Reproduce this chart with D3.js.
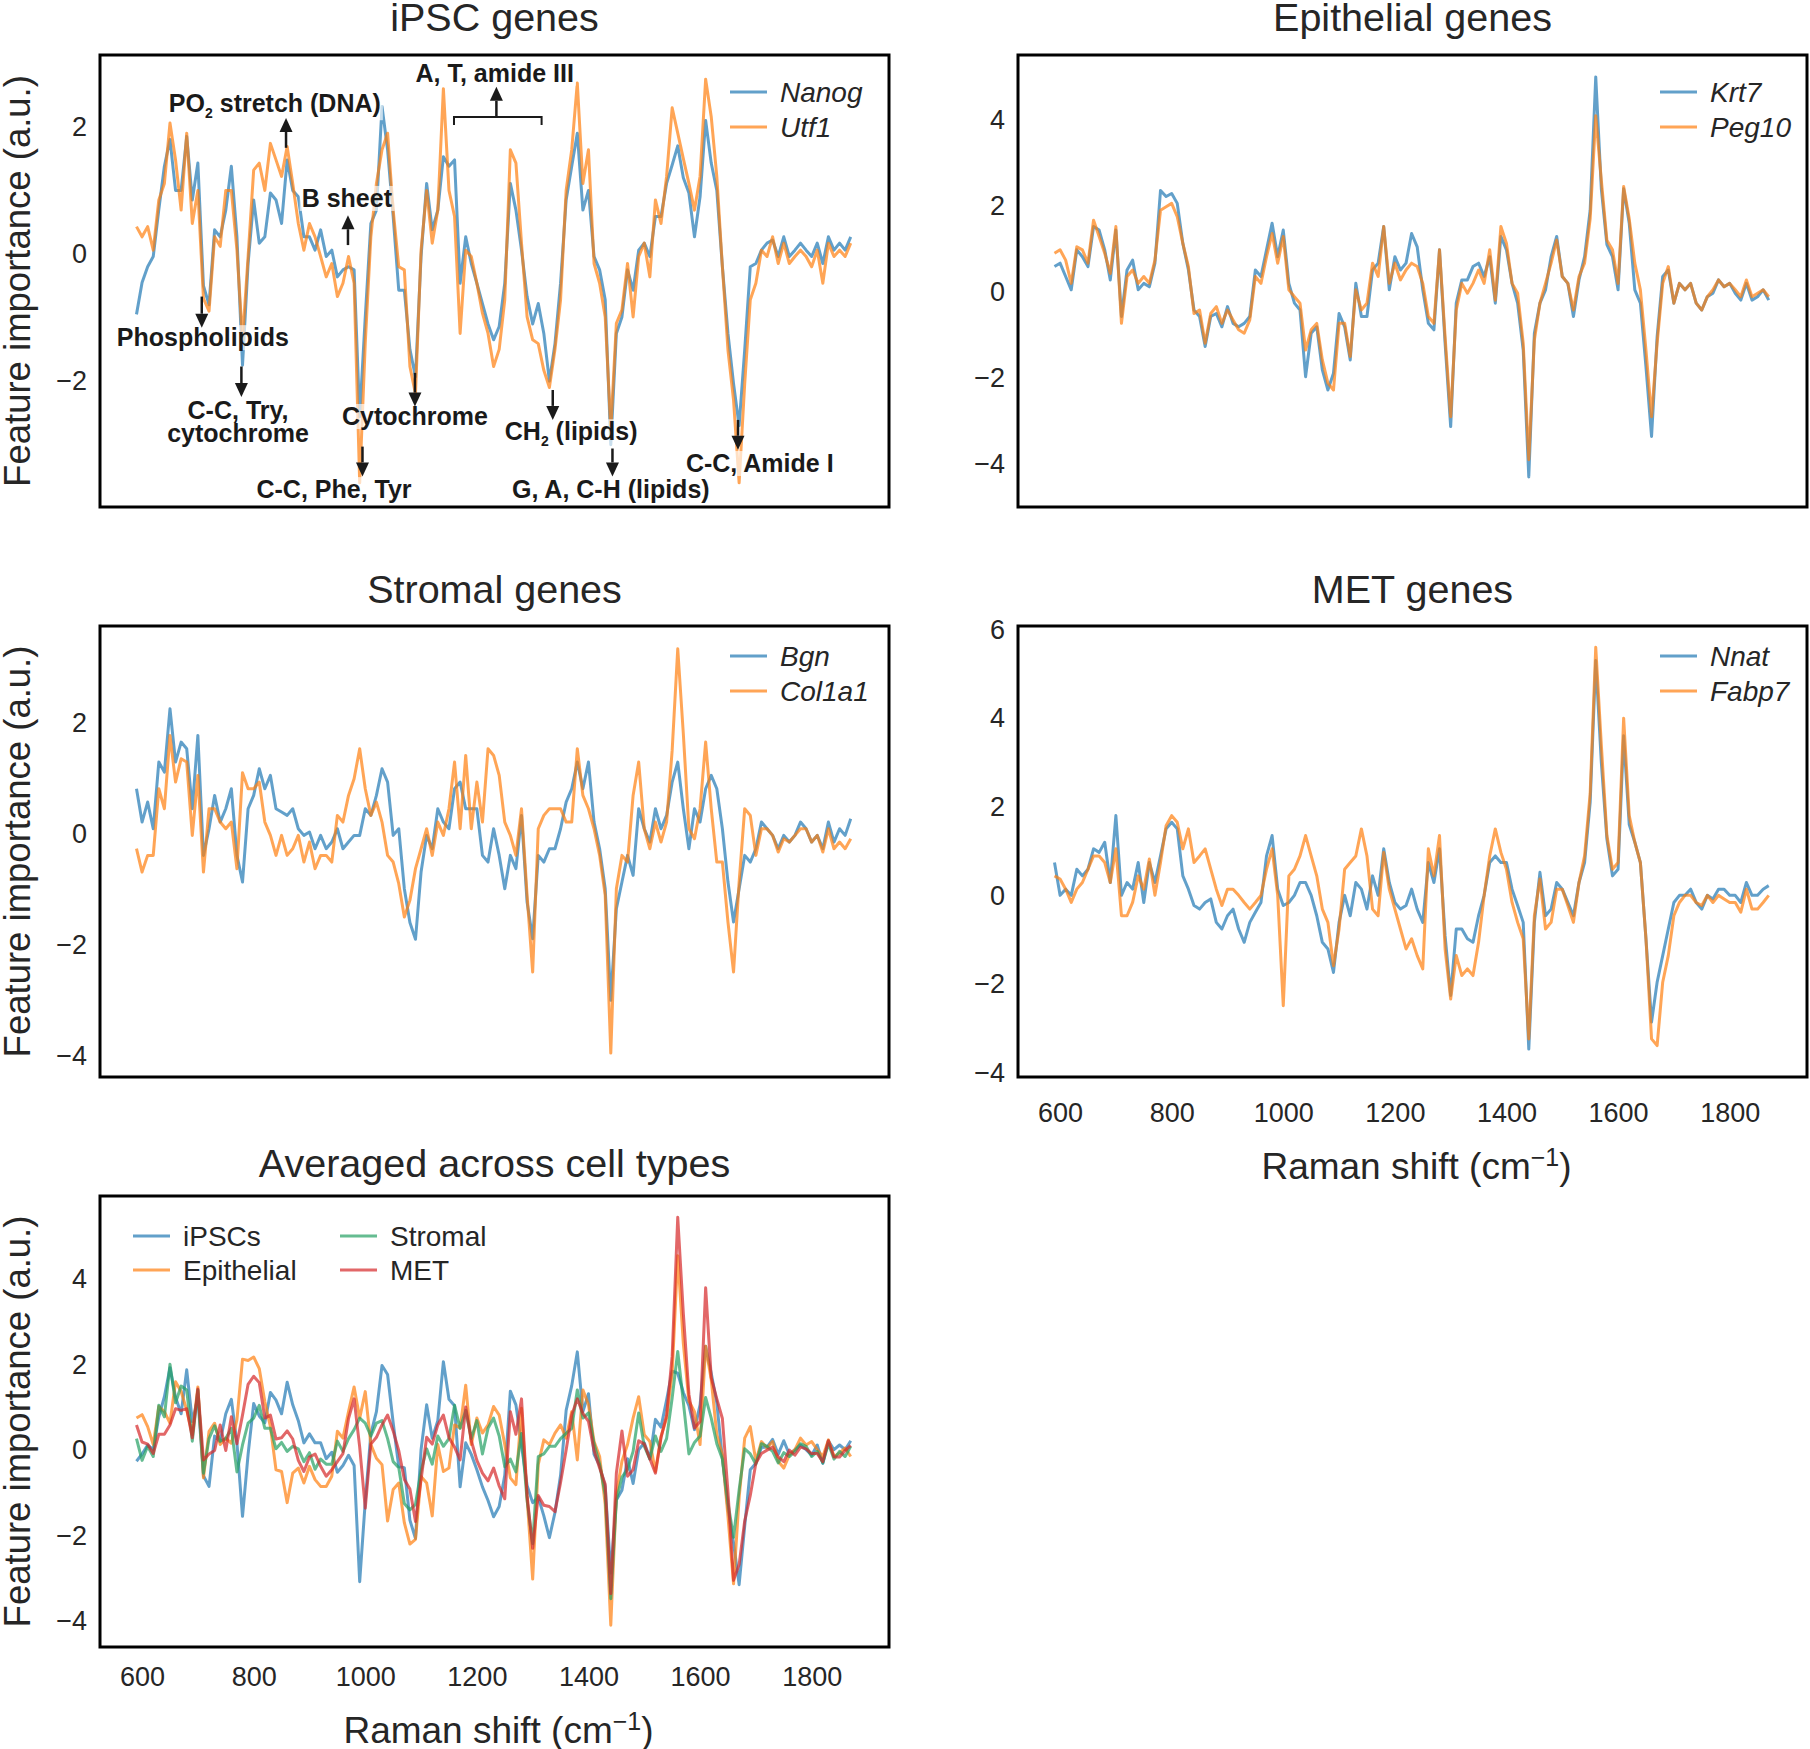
<!DOCTYPE html>
<html><head><meta charset="utf-8">
<script src="https://cdn.jsdelivr.net/npm/d3@7"></script>
<style>body{margin:0;background:#fff}</style>
</head><body>
<svg id="c" width="1810" height="1749" xmlns="http://www.w3.org/2000/svg"></svg>
<script>
// ---------------- data ----------------
const shift = [590,600,610,620,630,640,650,660,670,680,690,700,710,720,730,740,750,760,770,780,790,
800,810,820,830,840,850,860,870,880,890,900,910,920,930,940,950,960,970,980,990,
1000,1010,1020,1030,1040,1050,1060,1070,1080,1090,1100,1110,1120,1130,1140,1150,1160,1170,1180,1190,
1200,1210,1220,1230,1240,1250,1260,1270,1280,1290,1300,1310,1320,1330,1340,1350,1360,1370,1380,1390,
1400,1410,1420,1430,1440,1450,1460,1470,1480,1490,1500,1510,1520,1530,1540,1550,1560,1570,1580,1590,
1600,1610,1620,1630,1640,1650,1660,1670,1680,1690,1700,1710,1720,1730,1740,1750,1760,1770,1780,1790,
1800,1810,1820,1830,1840,1850,1860,1870];

const nanog = [-0.95,
-0.45,-0.2,-0.04,0.7,1.38,1.8,1.0,1.0,1.85,0.85,
1.43,-0.5,-0.8,0.38,0.27,0.69,1.38,0.27,-1.75,-0.15,
0.85,0.17,0.27,0.96,0.85,0.48,1.48,1.0,0.9,0.27,
0.27,0.06,0.38,-0.04,0.06,-0.36,-0.25,-0.2,-0.25,-2.56,
-0.99,0.48,0.69,2.32,1.64,0.59,-0.57,-0.57,-1.5,-1.93,
-0.04,1.11,0.38,0.69,1.53,1.38,1.48,-0.46,0.27,-0.15,
-0.46,-0.78,-1.1,-1.35,-1.14,-0.46,1.11,0.69,0.06,-0.67,
-1.1,-0.78,-1.25,-2.0,-1.41,-0.46,0.85,1.38,1.9,0.69,
1.0,-0.04,-0.25,-0.72,-3.0,-1.25,-0.99,-0.25,-0.57,0.06,
0.17,-0.04,0.59,0.59,1.11,1.4,1.7,1.2,0.96,0.27,
0.9,2.1,1.43,1.0,-0.2,-1.25,-2.04,-2.7,-1.51,-0.2,
-0.15,0.06,0.17,0.22,-0.04,0.27,-0.04,0.06,0.17,0.06,
-0.04,0.17,-0.15,0.27,0.06,0.17,0.06,0.27];

const utf1 = [0.43,
0.27,0.43,0.06,0.85,1.11,2.06,1.48,0.69,1.9,0.48,
1.0,-0.7,-0.9,0.27,0.12,1.0,1.0,0.06,-1.35,-0.04,
1.32,1.43,1.0,1.74,1.48,1.22,1.69,1.11,0.48,0.06,
0.48,0.27,-0.04,-0.36,-0.15,-0.67,-0.46,-0.04,-0.46,-3.6,
-1.4,0.27,1.11,1.64,1.9,0.69,-0.2,-0.25,-1.77,-2.2,
0.06,1.0,0.17,0.69,2.6,1.0,0.59,-1.25,0.06,-0.04,
-0.46,-0.93,-1.25,-1.77,-1.5,-0.72,1.64,1.43,0.17,-0.99,
-1.35,-1.41,-1.83,-2.1,-1.5,-0.72,1.0,1.64,2.69,1.11,
1.64,-0.15,-0.46,-0.99,-2.75,-1.09,-0.88,-0.15,-0.99,-0.04,
0.17,-0.36,0.85,0.48,1.22,2.3,1.9,1.5,1.11,0.69,
1.22,2.75,2.16,1.22,-0.2,-1.51,-2.3,-3.6,-2.04,-0.72,
-0.46,0.06,-0.04,0.27,-0.15,0.17,-0.15,-0.04,0.06,-0.04,
-0.2,0.06,-0.46,0.17,-0.04,0.06,-0.04,0.17];

const krt7 = [0.59,
0.67,0.36,0.05,0.98,0.82,0.59,1.52,1.44,0.98,0.28,
1.44,-0.57,0.51,0.74,0.05,0.2,0.12,0.67,2.36,2.22,
2.29,2.06,1.13,0.51,-0.42,-0.57,-1.27,-0.57,-0.5,-0.81,
-0.34,-0.73,-0.81,-0.73,-0.57,0.51,0.36,0.98,1.6,0.82,
1.44,0.2,-0.26,-0.42,-1.97,-0.96,-0.81,-1.81,-2.28,-1.89,
-0.5,-0.81,-1.58,0.2,-0.57,-0.57,0.51,0.67,1.52,0.05,
0.82,0.51,0.67,1.36,1.05,0.05,-0.73,-0.88,0.98,-1.19,
-3.13,-0.26,0.28,0.28,0.59,0.67,0.36,0.82,-0.26,1.29,
0.98,0.2,-0.26,-1.35,-4.3,-0.96,-0.26,0.05,0.82,1.29,
0.36,0.2,-0.57,0.28,0.82,1.9,5.0,2.4,1.1,0.82,
0.05,2.4,1.6,0.05,-0.26,-1.74,-3.36,-1.04,0.36,0.51,
-0.26,0.2,0.05,0.2,-0.26,-0.42,-0.11,-0.03,0.28,0.12,
0.2,-0.03,-0.19,0.2,-0.19,-0.11,0.05,-0.19];

const peg10 = [0.9,
0.98,0.74,0.2,1.05,0.98,0.67,1.67,1.29,0.9,0.43,
1.52,-0.73,0.36,0.51,0.2,0.36,0.2,0.74,1.9,1.98,
2.06,1.75,1.13,0.59,-0.5,-0.42,-1.19,-0.5,-0.34,-0.73,
-0.42,-0.65,-0.88,-0.96,-0.65,0.36,0.2,0.82,1.36,0.67,
1.29,0.05,-0.11,-0.26,-1.35,-0.88,-0.73,-1.58,-2.12,-2.28,
-0.73,-0.73,-1.5,0.05,-0.42,-0.26,0.67,0.36,1.52,0.2,
0.67,0.28,0.51,0.67,0.59,0.2,-0.57,-0.73,0.98,-1.04,
-2.9,-0.42,0.2,-0.03,0.2,0.51,0.2,0.98,-0.19,1.52,
1.13,0.2,-0.03,-1.19,-3.9,-1.12,-0.26,0.2,0.67,1.21,
0.36,0.2,-0.42,0.36,0.67,1.7,4.1,2.6,1.2,0.98,
0.2,2.45,1.7,0.67,0.05,-1.35,-2.9,-1.19,0.2,0.59,
-0.26,0.2,0.05,0.2,-0.26,-0.42,-0.11,0.05,0.28,0.12,
0.2,0.05,-0.11,0.28,-0.11,-0.03,0.05,-0.11];

const bgn = [0.81,
0.21,0.57,0.09,1.29,1.11,2.25,1.29,1.65,1.53,0.45,
1.77,-0.39,0.09,0.69,0.21,0.45,0.81,-0.39,-0.87,0.45,
0.69,1.17,0.81,1.05,0.45,0.39,0.33,0.45,0.09,-0.03,
0.03,-0.27,-0.03,-0.27,-0.15,0.09,-0.27,-0.15,-0.03,-0.03,
0.45,0.33,0.69,1.17,0.93,-0.03,0.09,-0.99,-1.6,-1.9,
-0.69,-0.03,-0.27,0.45,0.21,0.09,0.81,0.93,0.45,0.45,
0.45,-0.39,-0.51,0.09,-0.39,-0.99,-0.39,-0.63,0.33,-1.23,
-1.89,-0.39,-0.51,-0.27,-0.27,0.09,0.57,0.81,1.29,0.81,
1.29,0.21,-0.27,-0.99,-3.0,-1.35,-0.87,-0.39,-0.75,0.45,
0.09,-0.15,0.45,0.09,0.33,0.93,1.29,0.45,-0.27,0.45,
0.21,0.81,1.05,0.81,0.09,-0.87,-1.59,-0.99,-0.39,-0.51,
-0.27,0.21,0.09,-0.03,-0.27,-0.03,-0.15,-0.03,0.21,0.09,
-0.15,-0.03,-0.27,0.21,-0.15,0.09,-0.03,0.27];

const col1a1 = [-0.27,
-0.69,-0.39,-0.39,0.81,0.45,1.77,0.93,1.35,1.29,-0.03,
1.05,-0.69,0.45,0.45,0.21,0.09,0.21,-0.63,1.1,0.81,
0.81,0.93,0.21,-0.03,-0.39,-0.03,-0.39,-0.27,-0.03,-0.51,
-0.15,-0.63,-0.39,-0.39,-0.51,0.33,0.21,0.69,0.99,1.53,
0.81,0.33,0.57,0.21,-0.39,-0.51,-0.9,-1.5,-1.2,-0.63,
-0.27,0.09,-0.39,0.21,-0.03,0.45,1.29,0.09,1.41,0.09,
0.93,0.21,1.53,1.41,1.05,0.21,-0.03,-0.39,0.45,-1.11,
-2.49,0.09,0.33,0.45,0.45,0.45,0.21,0.21,1.53,0.69,
0.45,0.09,-0.39,-1.11,-3.95,-0.99,-0.39,-0.51,0.69,1.29,
0.09,-0.27,0.21,-0.15,0.21,1.5,3.33,1.8,0.09,-0.09,
0.45,1.65,0.45,-0.51,-0.51,-1.59,-2.49,-0.87,0.45,0.33,
-0.39,0.09,0.09,-0.03,-0.33,-0.09,-0.15,-0.03,0.09,0.09,
-0.15,-0.03,-0.33,0.09,-0.27,-0.15,-0.27,-0.09];

const nnat = [0.74,
0,0.14,0,0.59,0.44,0.59,1.05,0.97,1.2,0.29,
1.8,0,0.29,0.14,0.74,-0.16,0.74,0.29,0.89,1.5,
1.65,1.5,0.44,0.14,-0.23,-0.31,-0.16,-0.08,-0.61,-0.76,
-0.46,-0.31,-0.76,-1.06,-0.61,-0.38,-0.16,0.89,1.35,0.14,
-0.23,-0.16,0,0.29,0.29,0,-0.46,-1.06,-1.21,-1.74,
-0.61,0,-0.46,0.29,0.14,-0.31,0.44,0,1.05,0.29,
-0.16,-0.31,-0.23,0.14,-0.31,-0.61,0.74,0.29,1.05,-0.91,
-2.26,-0.76,-0.76,-0.98,-1.06,-0.46,0,0.74,0.89,0.74,
0.74,0.14,-0.23,-0.61,-3.47,-0.61,0.52,-0.46,-0.31,0.29,
0.14,-0.16,-0.46,0.29,0.74,2.1,5.3,3.0,1.27,0.44,
0.59,3.6,1.6,1.2,0.74,-0.98,-2.86,-1.96,-1.36,-0.76,
-0.16,0,0,0.14,-0.16,-0.31,0,-0.08,0.14,0.14,
0,0,-0.16,0.29,0,0,0.14,0.22];

const fabp7 = [0.44,
0.37,0.14,-0.16,0.14,0.29,0.59,0.89,0.89,0.74,0.29,
1.05,-0.46,-0.46,-0.16,0.44,0.14,0.82,0,0.74,1.57,
1.8,1.65,1.05,1.5,0.74,0.89,1.05,0.59,0.14,-0.23,
0.14,0.14,0,-0.16,-0.31,-0.16,0,0.59,1.05,0,
-2.49,0.44,0.59,0.89,1.35,0.89,0.44,-0.31,-0.61,-1.59,
-0.76,0.59,0.74,0.89,1.5,0.89,-0.31,-0.46,0.97,0.14,
-0.31,-0.76,-1.21,-0.98,-1.36,-1.66,1.05,0.44,1.35,-1.21,
-2.34,-1.36,-1.81,-1.66,-1.81,-1.06,0,0.89,1.5,0.97,
0.59,-0.16,-0.61,-0.98,-3.24,-0.46,0.37,-0.76,-0.61,0.14,
0.14,-0.23,-0.61,0.29,0.89,2.3,5.6,3.4,1.35,0.59,
0.74,4.0,1.8,1.2,0.74,-0.98,-3.24,-3.39,-1.96,-1.36,
-0.46,-0.16,0,0,-0.16,-0.23,0,-0.16,0,-0.08,
-0.16,-0.16,-0.38,0.14,-0.31,-0.31,-0.16,0];

const avgIPSC = [-0.26,
-0.09,0.12,0.01,0.78,1.25,1.93,1.24,0.85,1.88,0.67,
1.22,-0.6,-0.85,0.33,0.2,0.85,1.19,0.17,-1.55,-0.1,
1.09,0.8,0.64,1.35,1.17,0.85,1.59,1.06,0.69,0.17,
0.38,0.17,0.17,-0.2,-0.05,-0.52,-0.36,-0.12,-0.36,-3.08,
-1.2,0.38,0.9,1.98,1.77,0.64,-0.39,-0.41,-1.64,-2.07,
0.01,1.06,0.28,0.69,2.07,1.19,1.04,-0.86,0.17,-0.1,
-0.46,-0.86,-1.18,-1.56,-1.32,-0.59,1.38,1.06,0.12,-0.83,
-1.23,-1.1,-1.54,-2.05,-1.46,-0.59,0.93,1.51,2.3,0.9,
1.32,-0.1,-0.36,-0.86,-2.88,-1.17,-0.94,-0.2,-0.78,0.01,
0.17,-0.2,0.72,0.54,1.17,1.85,1.8,1.35,1.04,0.48,
1.06,2.43,1.8,1.11,-0.2,-1.38,-2.17,-3.15,-1.78,-0.46,
-0.31,0.06,0.07,0.25,-0.1,0.22,-0.1,0.01,0.12,0.01,
-0.12,0.12,-0.31,0.22,0.01,0.12,0.01,0.22];

const avgEpithelial = [0.75,
0.83,0.55,0.13,1.02,0.9,0.63,1.6,1.37,0.94,0.36,
1.48,-0.65,0.44,0.63,0.13,0.28,0.16,0.71,2.13,2.1,
2.18,1.91,1.13,0.55,-0.46,-0.5,-1.23,-0.54,-0.42,-0.77,
-0.38,-0.69,-0.85,-0.85,-0.61,0.44,0.28,0.9,1.48,0.75,
1.37,0.13,-0.19,-0.34,-1.66,-0.92,-0.77,-1.7,-2.2,-2.09,
-0.62,-0.77,-1.54,0.13,-0.5,-0.42,0.59,0.52,1.52,0.13,
0.75,0.4,0.59,1.02,0.82,0.13,-0.65,-0.81,0.98,-1.12,
-3.02,-0.34,0.24,0.13,0.4,0.59,0.28,0.9,-0.23,1.41,
1.06,0.2,-0.15,-1.27,-4.1,-1.04,-0.26,0.13,0.75,1.25,
0.36,0.2,-0.5,0.32,0.75,1.8,4.55,2.5,1.15,0.9,
0.13,2.43,1.65,0.36,-0.11,-1.55,-3.13,-1.12,0.28,0.55,
-0.26,0.2,0.05,0.2,-0.26,-0.42,-0.11,0.01,0.28,0.12,
0.2,0.01,-0.15,0.24,-0.15,-0.07,0.05,-0.15];

const avgStromal = [0.27,
-0.24,0.09,-0.15,1.05,0.78,2.01,1.11,1.5,1.41,0.21,
1.41,-0.54,0.27,0.57,0.21,0.27,0.51,-0.51,0.12,0.63,
0.75,1.05,0.51,0.51,0.03,0.18,-0.03,0.09,0.03,-0.27,
-0.06,-0.45,-0.21,-0.33,-0.33,0.21,-0.03,0.27,0.48,0.75,
0.63,0.33,0.63,0.69,0.27,-0.27,-0.41,-1.25,-1.4,-1.27,
-0.48,0.03,-0.33,0.33,0.09,0.27,1.05,0.51,0.93,0.27,
0.69,-0.09,0.51,0.75,0.33,-0.39,-0.21,-0.51,0.39,-1.17,
-2.19,-0.15,-0.09,0.09,0.09,0.27,0.39,0.51,1.41,0.75,
0.87,0.15,-0.33,-1.05,-3.48,-1.17,-0.63,-0.45,-0.03,0.87,
0.09,-0.21,0.33,-0.03,0.27,1.22,2.31,1.13,-0.09,0.18,
0.33,1.23,0.75,0.15,-0.21,-1.23,-2.04,-0.93,0.03,-0.09,
-0.33,0.15,0.09,-0.03,-0.3,-0.06,-0.15,-0.03,0.15,0.09,
-0.15,-0.03,-0.3,0.15,-0.21,-0.03,-0.15,0.09];

const avgMET = [0.59,
0.19,0.14,-0.08,0.37,0.37,0.59,0.97,0.93,0.97,0.29,
1.43,-0.23,-0.09,-0.01,0.59,-0.01,0.78,0.15,0.82,1.54,
1.73,1.58,0.75,0.82,0.26,0.29,0.45,0.26,-0.24,-0.5,
-0.16,-0.09,-0.38,-0.61,-0.46,-0.27,-0.08,0.74,1.2,0.07,
-1.36,0.14,0.3,0.59,0.82,0.45,-0.01,-0.69,-0.91,-1.67,
-0.69,0.3,0.14,0.59,0.82,0.29,0.07,-0.23,1.01,0.22,
-0.24,-0.54,-0.72,-0.42,-0.84,-1.14,0.9,0.37,1.2,-1.06,
-2.3,-1.06,-1.29,-1.32,-1.44,-0.76,0,0.82,1.2,0.86,
0.67,-0.01,-0.42,-0.8,-3.36,-0.54,0.45,-0.61,-0.46,0.22,
0.14,-0.2,-0.54,0.29,0.82,2.2,5.45,3.2,1.31,0.52,
0.67,3.8,1.7,1.2,0.74,-0.98,-3.05,-2.68,-1.66,-1.06,
-0.31,-0.08,0,0.07,-0.16,-0.27,0,-0.12,0.07,0.03,
-0.08,-0.08,-0.27,0.22,-0.16,-0.16,-0.01,0.11];

const xTickValues = [600,800,1000,1200,1400,1600,1800];
const titles = ["iPSC genes","Epithelial genes","Stromal genes","MET genes","Averaged across cell types"];
const yLabel = "Feature importance (a.u.)";

// annotations on the iPSC panel (data coordinates: shift, importance)
const ipscNotes = [
  {text:"PO_{2} stretch (DNA)", tx:838, ty:2.23, ax:858, a0:1.67, a1:2.14},
  {text:"B sheet", tx:967, ty:0.74, ax:969, a0:0.14, a1:0.61},
  {text:"Phospholipids", tx:709, ty:-1.45, ax:707, a0:-0.67, a1:-1.16},
  {text:"C-C, Try,\ncytochrome", tx:772, ty:-2.60, ax:778, a0:-1.77, a1:-2.25},
  {text:"C-C, Phe, Tyr", tx:944, ty:-3.84, ax:995, a0:-3.03, a1:-3.50},
  {text:"Cytochrome", tx:1089, ty:-2.69, ax:1089, a0:-1.87, a1:-2.40},
  {text:"A, T, amide III", tx:1232, ty:2.71, ax:1235, a0:2.155, a1:2.63, bracket:[1159,1316,2.155,2.03]},
  {text:"CH_{2} (lipids)", tx:1369, ty:-2.93, ax:1336, a0:-2.14, a1:-2.61},
  {text:"G, A, C-H (lipids)", tx:1440, ty:-3.84, ax:1443, a0:-3.06, a1:-3.50},
  {text:"C-C, Amide I", tx:1707, ty:-3.43, ax:1668, a0:-2.61, a1:-3.08}
];

// ---------------- drawing ----------------
const FONT = '"Liberation Sans", Arial, Helvetica, sans-serif';
const INK = '#262626';
const BLUE = '#1f77b4', ORANGE = '#ff7f0e', GREEN = '#23a062', RED = '#d62728';
const fmt = d => d < 0 ? '\u2212' + Math.abs(d) : String(d);

const svg = d3.select('#c').attr('font-family', FONT);
svg.append('rect').attr('width',1810).attr('height',1749).attr('fill','#fff');

const panels = [
  {title:titles[0], x:100, y:55, w:789, h:452, tdy:-24, yDomain:[-3.98,3.13], yTicks:[-2,0,2], ylab:true, xaxis:false,
   series:[{name:'Nanog',v:nanog,c:BLUE},{name:'Utf1',v:utf1,c:ORANGE}],
   legend:{x:630,y:37,row:35,col:0,italic:true}, notes:ipscNotes},
  {title:titles[1], x:1018, y:55, w:789, h:452, tdy:-24, yDomain:[-5.0,5.51], yTicks:[-4,-2,0,2,4], ylab:false, xaxis:false,
   series:[{name:'Krt7',v:krt7,c:BLUE},{name:'Peg10',v:peg10,c:ORANGE}],
   legend:{x:642,y:37,row:35,col:0,italic:true}},
  {title:titles[2], x:100, y:626, w:789, h:451, tdy:-23, yDomain:[-4.38,3.74], yTicks:[-4,-2,0,2], ylab:true, xaxis:false,
   series:[{name:'Bgn',v:bgn,c:BLUE},{name:'Col1a1',v:col1a1,c:ORANGE}],
   legend:{x:630,y:30,row:35,col:0,italic:true}},
  {title:titles[3], x:1018, y:626, w:789, h:451, tdy:-23, yDomain:[-4.10,6.08], yTicks:[-4,-2,0,2,4,6], ylab:false, xaxis:true,
   xpad:26, xl:102,
   series:[{name:'Nnat',v:nnat,c:BLUE},{name:'Fabp7',v:fabp7,c:ORANGE}],
   legend:{x:642,y:30,row:35,col:0,italic:true}},
  {title:titles[4], x:100, y:1196, w:789, h:451, tdy:-19, yDomain:[-4.61,5.95], yTicks:[-4,-2,0,2,4], ylab:true, xaxis:true,
   xpad:20, xl:96,
   series:[{name:'iPSCs',v:avgIPSC,c:BLUE},{name:'Epithelial',v:avgEpithelial,c:ORANGE},
           {name:'Stromal',v:avgStromal,c:GREEN},{name:'MET',v:avgMET,c:RED}],
   legend:{x:33,y:40,row:34,col:207,italic:false,rows:2}}
];

panels.forEach(p => {
  const g = svg.append('g').attr('transform', `translate(${p.x},${p.y})`);
  const x = d3.scaleLinear().domain([524.6, 1938.6]).range([0, p.w]);
  const y = d3.scaleLinear().domain(p.yDomain).range([p.h, 0]);
  const line = d3.line().x(d => x(d[0])).y(d => y(d[1]));

  p.series.forEach(s => {
    g.append('path')
      .datum(shift.map((sv, i) => [sv, s.v[i]]))
      .attr('d', line)
      .attr('fill','none')
      .attr('stroke', s.c)
      .attr('stroke-opacity', 0.7)
      .attr('stroke-width', 3)
      .attr('stroke-linejoin','round');
  });

  // annotations
  if (p.notes) {
    const ng = g.append('g');
    p.notes.forEach(n => {
      const grp = ng.append('g');
      const rect = grp.append('rect');
      const t = grp.append('text').attr('text-anchor','middle').attr('font-weight','bold')
        .attr('font-size',25).attr('fill','#1a1a1a');
      n.text.split('\n').forEach((ln, li) => {
        const parts = ln.split(/(_\{[^}]*\})/).filter(s => s.length);
        let prevSub = false;
        parts.forEach((pt, pi) => {
          const ts = t.append('tspan');
          if (pi === 0) ts.attr('x', x(n.tx)).attr('y', y(n.ty) + li * 23);
          if (pt.startsWith('_{')) {
            ts.attr('font-size', 14).attr('dy', 6).text(pt.slice(2, -1));
            prevSub = true;
          } else {
            if (prevSub) ts.attr('dy', -6);
            ts.text(pt);
            prevSub = false;
          }
        });
      });
      const bb = t.node().getBBox();
      rect.attr('x', bb.x - 2).attr('y', bb.y + 2).attr('width', bb.width + 4).attr('height', bb.height - 3)
        .attr('fill','#fff').attr('fill-opacity', 0.65);
    });
    p.notes.forEach(n => {
      const px = x(n.ax), p0 = y(n.a0), p1 = y(n.a1);
      const dir = p1 > p0 ? 1 : -1;
      const hl = 14, hw = 6.5;
      ng.append('line').attr('x1', px).attr('x2', px).attr('y1', p0).attr('y2', p1 - dir * hl)
        .attr('stroke','#1a1a1a').attr('stroke-width', 2.5);
      ng.append('path').attr('d', `M${px},${p1}L${px - hw},${p1 - dir * hl}L${px + hw},${p1 - dir * hl}Z`)
        .attr('fill','#1a1a1a');
      if (n.bracket) {
        const [b1, b2, by, bt] = n.bracket;
        ng.append('path').attr('d', `M${x(b1)},${y(bt)}L${x(b1)},${y(by)}L${x(b2)},${y(by)}L${x(b2)},${y(bt)}`)
          .attr('fill','none').attr('stroke','#1a1a1a').attr('stroke-width', 2);
      }
    });
  }

  // frame
  g.append('rect').attr('width', p.w).attr('height', p.h).attr('fill','none')
    .attr('stroke','#000').attr('stroke-width', 3);

  // y axis
  g.append('g')
    .call(d3.axisLeft(y).tickValues(p.yTicks).tickSize(0).tickPadding(13).tickFormat(fmt))
    .call(a => a.select('.domain').remove())
    .attr('font-family', FONT).attr('font-size', 27)
    .selectAll('text').attr('fill', INK);

  // x axis
  if (p.xaxis) {
    g.append('g').attr('transform', `translate(0,${p.h})`)
      .call(d3.axisBottom(x).tickValues(xTickValues).tickSize(0).tickPadding(p.xpad).tickFormat(d => String(d)))
      .call(a => a.select('.domain').remove())
      .attr('font-family', FONT).attr('font-size', 27)
      .selectAll('text').attr('fill', INK);
    const xl = g.append('text').attr('x', p.w / 2 + 4).attr('y', p.h + p.xl).attr('text-anchor','middle')
      .attr('font-size', 37).attr('fill', INK);
    xl.append('tspan').text('Raman shift (cm');
    xl.append('tspan').attr('font-size', 25).attr('dy', -13).text('\u22121');
    xl.append('tspan').attr('dy', 13).text(')');
  }

  // title
  g.append('text').attr('x', p.w / 2).attr('y', p.tdy).attr('text-anchor','middle')
    .attr('font-size', 39.5).attr('fill', INK).text(p.title);

  // y label
  if (p.ylab) {
    svg.append('text').attr('transform', `translate(30,${p.y + p.h / 2}) rotate(-90)`)
      .attr('text-anchor','middle').attr('font-size', 36.5).attr('fill', INK).text(yLabel);
  }

  // legend
  const L = p.legend;
  const rows = L.rows || p.series.length;
  p.series.forEach((s, i) => {
    const col = Math.floor(i / rows), row = i % rows;
    const lx = L.x + col * L.col, ly = L.y + row * L.row;
    g.append('line').attr('x1', lx).attr('x2', lx + 37).attr('y1', ly).attr('y2', ly)
      .attr('stroke', s.c).attr('stroke-opacity', 0.7).attr('stroke-width', 3);
    g.append('text').attr('x', lx + 50).attr('y', ly).attr('dy','0.35em')
      .attr('font-size', 28).attr('fill', INK).attr('font-style', L.italic ? 'italic' : 'normal')
      .text(s.name);
  });
});
</script>
</body></html>
